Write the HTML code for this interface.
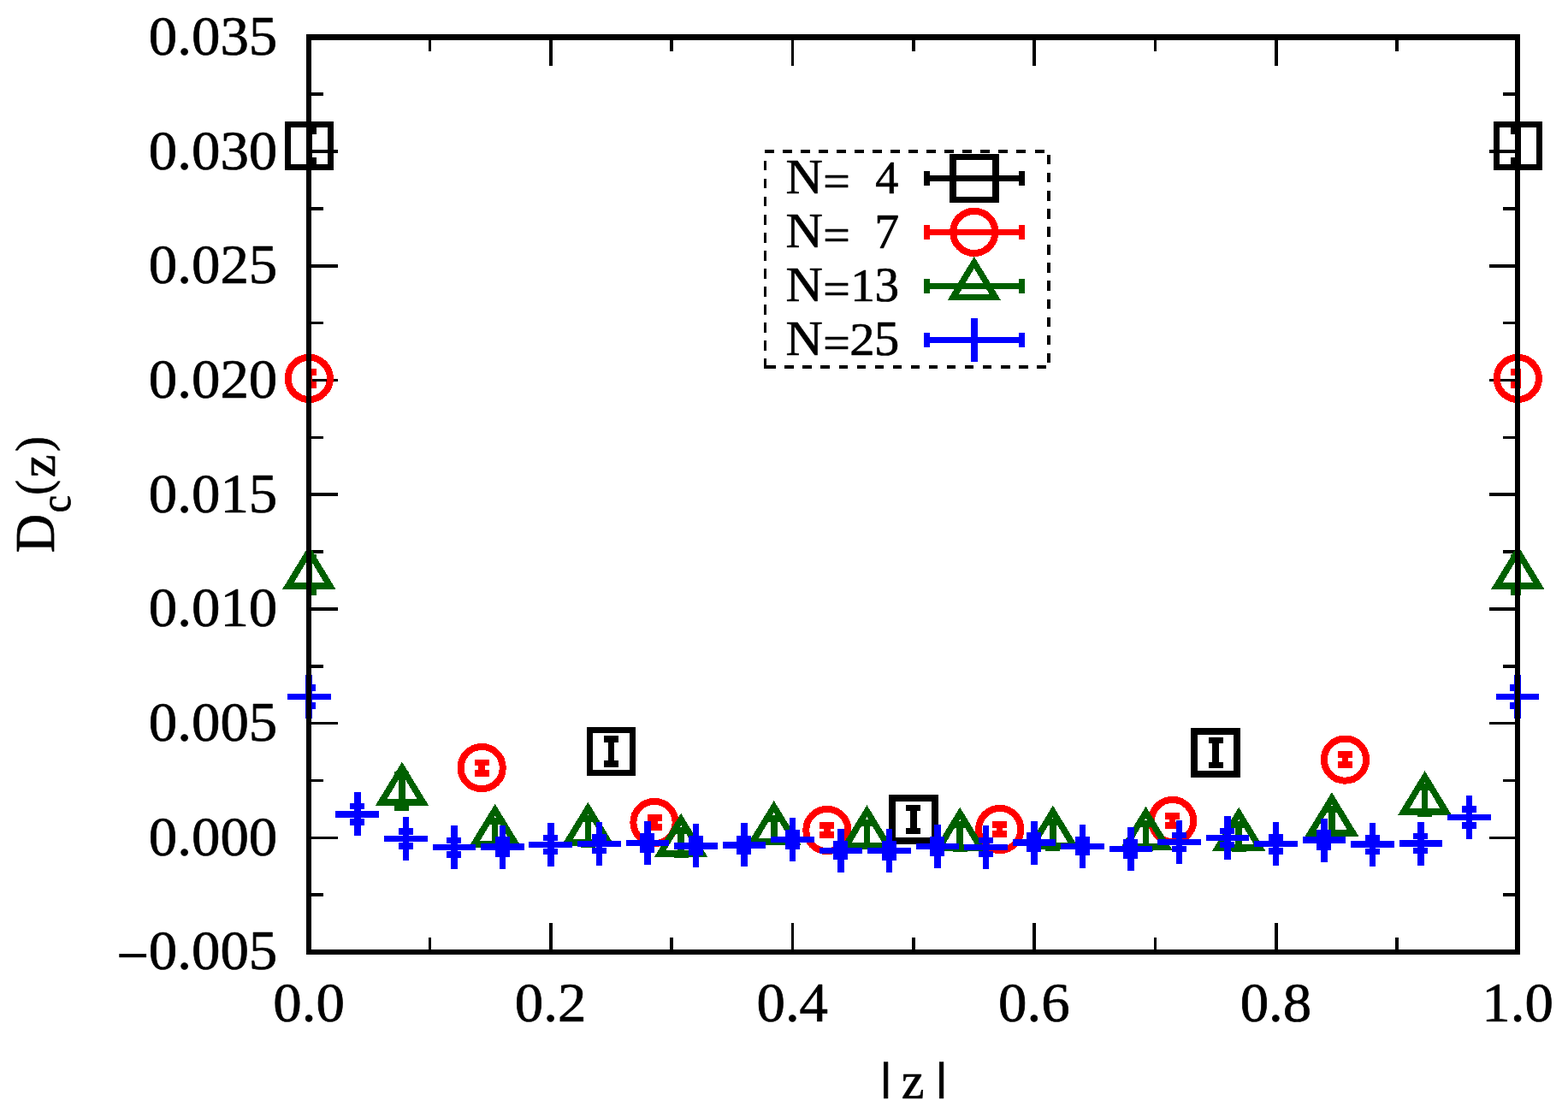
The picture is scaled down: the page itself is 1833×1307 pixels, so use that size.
<!DOCTYPE html>
<html lang="en"><head><meta charset="utf-8"><title>Dc(z) vs |z|</title>
<style>html,body{margin:0;padding:0;background:#fff}svg{display:block}text{font-family:"Liberation Serif",serif;fill:#000;stroke:#000;stroke-width:0.7px;stroke-linejoin:round}</style>
</head><body>
<svg width="1833" height="1307" viewBox="0 0 1833 1307">
<rect x="0" y="0" width="1833" height="1307" fill="#fff"/>
<defs><clipPath id="c"><rect x="361" y="43" width="1417" height="1071"/></clipPath></defs>
<g shape-rendering="crispEdges">
<g fill="#000">
<rect x="364" y="1111.2" width="31" height="3.6" fill="#000"/>
<rect x="1741" y="1111.2" width="30" height="3.6" fill="#000"/>
<rect x="364" y="1044.35" width="14" height="3.6" fill="#000"/>
<rect x="1757" y="1044.35" width="14" height="3.6" fill="#000"/>
<rect x="364" y="977.5" width="31" height="3.6" fill="#000"/>
<rect x="1741" y="977.5" width="30" height="3.6" fill="#000"/>
<rect x="364" y="910.65" width="14" height="3.6" fill="#000"/>
<rect x="1757" y="910.65" width="14" height="3.6" fill="#000"/>
<rect x="364" y="843.8" width="31" height="3.6" fill="#000"/>
<rect x="1741" y="843.8" width="30" height="3.6" fill="#000"/>
<rect x="364" y="776.95" width="14" height="3.6" fill="#000"/>
<rect x="1757" y="776.95" width="14" height="3.6" fill="#000"/>
<rect x="364" y="710.1" width="31" height="3.6" fill="#000"/>
<rect x="1741" y="710.1" width="30" height="3.6" fill="#000"/>
<rect x="364" y="643.25" width="14" height="3.6" fill="#000"/>
<rect x="1757" y="643.25" width="14" height="3.6" fill="#000"/>
<rect x="364" y="576.4" width="31" height="3.6" fill="#000"/>
<rect x="1741" y="576.4" width="30" height="3.6" fill="#000"/>
<rect x="364" y="509.55" width="14" height="3.6" fill="#000"/>
<rect x="1757" y="509.55" width="14" height="3.6" fill="#000"/>
<rect x="364" y="442.7" width="31" height="3.6" fill="#000"/>
<rect x="1741" y="442.7" width="30" height="3.6" fill="#000"/>
<rect x="364" y="375.85" width="14" height="3.6" fill="#000"/>
<rect x="1757" y="375.85" width="14" height="3.6" fill="#000"/>
<rect x="364" y="309" width="31" height="3.6" fill="#000"/>
<rect x="1741" y="309" width="30" height="3.6" fill="#000"/>
<rect x="364" y="242.15" width="14" height="3.6" fill="#000"/>
<rect x="1757" y="242.15" width="14" height="3.6" fill="#000"/>
<rect x="364" y="175.3" width="31" height="3.6" fill="#000"/>
<rect x="1741" y="175.3" width="30" height="3.6" fill="#000"/>
<rect x="364" y="108.45" width="14" height="3.6" fill="#000"/>
<rect x="1757" y="108.45" width="14" height="3.6" fill="#000"/>
<rect x="364" y="41.6" width="31" height="3.6" fill="#000"/>
<rect x="1741" y="41.6" width="30" height="3.6" fill="#000"/>
<rect x="359.5" y="47" width="3.6" height="30" fill="#000"/>
<rect x="359.5" y="1079" width="3.6" height="31" fill="#000"/>
<rect x="500.8" y="47" width="3.6" height="13" fill="#000"/>
<rect x="500.8" y="1096" width="3.6" height="14" fill="#000"/>
<rect x="642.1" y="47" width="3.6" height="30" fill="#000"/>
<rect x="642.1" y="1079" width="3.6" height="31" fill="#000"/>
<rect x="783.4" y="47" width="3.6" height="13" fill="#000"/>
<rect x="783.4" y="1096" width="3.6" height="14" fill="#000"/>
<rect x="924.7" y="47" width="3.6" height="30" fill="#000"/>
<rect x="924.7" y="1079" width="3.6" height="31" fill="#000"/>
<rect x="1066" y="47" width="3.6" height="13" fill="#000"/>
<rect x="1066" y="1096" width="3.6" height="14" fill="#000"/>
<rect x="1207.3" y="47" width="3.6" height="30" fill="#000"/>
<rect x="1207.3" y="1079" width="3.6" height="31" fill="#000"/>
<rect x="1348.6" y="47" width="3.6" height="13" fill="#000"/>
<rect x="1348.6" y="1096" width="3.6" height="14" fill="#000"/>
<rect x="1489.9" y="47" width="3.6" height="30" fill="#000"/>
<rect x="1489.9" y="1079" width="3.6" height="31" fill="#000"/>
<rect x="1631.2" y="47" width="3.6" height="13" fill="#000"/>
<rect x="1631.2" y="1096" width="3.6" height="14" fill="#000"/>
<rect x="1772.5" y="47" width="3.6" height="30" fill="#000"/>
<rect x="1772.5" y="1079" width="3.6" height="31" fill="#000"/>
</g>
<g clip-path="url(#c)">
<path fill="#000000" d="M352.8 149.25h17v7.5h-4.75v27.5h4.75v7.5h-17v-7.5h4.75v-27.5h-4.75z"/>
<path fill="#000000" d="M706.05 860.05h17v7.5h-4.75v21.5h4.75v7.5h-17v-7.5h4.75v-21.5h-4.75z"/>
<path fill="#000000" d="M1059.3 940.75h17v7.5h-4.75v19.5h4.75v7.5h-17v-7.5h4.75v-19.5h-4.75z"/>
<path fill="#000000" d="M1412.55 861.95h17v7.5h-4.75v21.1h4.75v7.5h-17v-7.5h4.75v-21.1h-4.75z"/>
<path fill="#000000" d="M1765.8 149.25h17v7.5h-4.75v27.5h4.75v7.5h-17v-7.5h4.75v-27.5h-4.75z"/>
</g>
<g>
<rect x="336.3" y="145.5" width="50" height="50" fill="none" stroke="#000000" stroke-width="7.5"/>
<rect x="689.55" y="853.3" width="50" height="50" fill="none" stroke="#000000" stroke-width="7.5"/>
<rect x="1042.8" y="933" width="50" height="50" fill="none" stroke="#000000" stroke-width="7.5"/>
<rect x="1396.05" y="855" width="50" height="50" fill="none" stroke="#000000" stroke-width="7.5"/>
<rect x="1749.3" y="145.5" width="50" height="50" fill="none" stroke="#000000" stroke-width="7.5"/>
</g>
<g clip-path="url(#c)">
<path fill="#ff0000" d="M352.8 431.05h17v7.5h-4.75v7.7h4.75v7.5h-17v-7.5h4.75v-7.7h-4.75z"/>
<path fill="#ff0000" d="M554.66 887.65h17v7.5h-4.75v4.9h4.75v7.5h-17v-7.5h4.75v-4.9h-4.75z"/>
<path fill="#ff0000" d="M756.51 952.25h17v7.5h-4.75v3.5h4.75v7.5h-17v-7.5h4.75v-3.5h-4.75z"/>
<path fill="#ff0000" d="M958.37 961.45h17v7.5h-4.75v3.1h4.75v7.5h-17v-7.5h4.75v-3.1h-4.75z"/>
<path fill="#ff0000" d="M1160.23 960.25h17v7.5h-4.75v3.5h4.75v7.5h-17v-7.5h4.75v-3.5h-4.75z"/>
<path fill="#ff0000" d="M1362.09 950.05h17v7.5h-4.75v3.9h4.75v7.5h-17v-7.5h4.75v-3.9h-4.75z"/>
<path fill="#ff0000" d="M1563.94 878.35h17v7.5h-4.75v4.5h4.75v7.5h-17v-7.5h4.75v-4.5h-4.75z"/>
<path fill="#ff0000" d="M1765.8 431.05h17v7.5h-4.75v7.7h4.75v7.5h-17v-7.5h4.75v-7.7h-4.75z"/>
</g>
<g>
<circle cx="361.3" cy="442.4" r="24.6" fill="none" stroke="#ff0000" stroke-width="8"/>
<circle cx="563.16" cy="897.6" r="24.6" fill="none" stroke="#ff0000" stroke-width="8"/>
<circle cx="765.01" cy="961.5" r="24.6" fill="none" stroke="#ff0000" stroke-width="8"/>
<circle cx="966.87" cy="970.5" r="24.6" fill="none" stroke="#ff0000" stroke-width="8"/>
<circle cx="1168.73" cy="969.5" r="24.6" fill="none" stroke="#ff0000" stroke-width="8"/>
<circle cx="1370.59" cy="959.5" r="24.6" fill="none" stroke="#ff0000" stroke-width="8"/>
<circle cx="1572.44" cy="888.1" r="24.6" fill="none" stroke="#ff0000" stroke-width="8"/>
<circle cx="1774.3" cy="442.4" r="24.6" fill="none" stroke="#ff0000" stroke-width="8"/>
</g>
<g clip-path="url(#c)">
<path fill="#006000" d="M352.8 647.75h17v7.5h-4.75v33.3h4.75v7.5h-17v-7.5h4.75v-33.3h-4.75z"/>
<path fill="#006000" d="M461.49 902.45h17v7.5h-4.75v30.1h4.75v7.5h-17v-7.5h4.75v-30.1h-4.75z"/>
<path fill="#006000" d="M570.18 956.25h17v7.5h-4.75v20.5h4.75v7.5h-17v-7.5h4.75v-20.5h-4.75z"/>
<path fill="#006000" d="M678.88 953.25h17v7.5h-4.75v22.5h4.75v7.5h-17v-7.5h4.75v-22.5h-4.75z"/>
<path fill="#006000" d="M787.57 967.25h17v7.5h-4.75v20.5h4.75v7.5h-17v-7.5h4.75v-20.5h-4.75z"/>
<path fill="#006000" d="M896.26 953.25h17v7.5h-4.75v19.1h4.75v7.5h-17v-7.5h4.75v-19.1h-4.75z"/>
<path fill="#006000" d="M1004.95 958.25h17v7.5h-4.75v19.5h4.75v7.5h-17v-7.5h4.75v-19.5h-4.75z"/>
<path fill="#006000" d="M1113.65 960.25h17v7.5h-4.75v20.5h4.75v7.5h-17v-7.5h4.75v-20.5h-4.75z"/>
<path fill="#006000" d="M1222.34 957.25h17v7.5h-4.75v22.5h4.75v7.5h-17v-7.5h4.75v-22.5h-4.75z"/>
<path fill="#006000" d="M1331.03 959.25h17v7.5h-4.75v20.5h4.75v7.5h-17v-7.5h4.75v-20.5h-4.75z"/>
<path fill="#006000" d="M1439.72 960.25h17v7.5h-4.75v20.5h4.75v7.5h-17v-7.5h4.75v-20.5h-4.75z"/>
<path fill="#006000" d="M1548.42 942.45h17v7.5h-4.75v21.1h4.75v7.5h-17v-7.5h4.75v-21.1h-4.75z"/>
<path fill="#006000" d="M1657.11 916.25h17v7.5h-4.75v23.5h4.75v7.5h-17v-7.5h4.75v-23.5h-4.75z"/>
<path fill="#006000" d="M1765.8 647.75h17v7.5h-4.75v33.3h4.75v7.5h-17v-7.5h4.75v-33.3h-4.75z"/>
</g>
<g>
<path fill="#006000" fill-rule="evenodd" d="M361.3 637.6L392.7 689.1L329.9 689.1ZM361.3 651.5L343.6 681.3L379 681.3Z"/>
<path fill="#006000" fill-rule="evenodd" d="M469.99 890.7L501.39 942.2L438.59 942.2ZM469.99 904.6L452.29 934.4L487.69 934.4Z"/>
<path fill="#006000" fill-rule="evenodd" d="M578.68 939.7L610.08 991.2L547.28 991.2ZM578.68 953.6L560.98 983.4L596.38 983.4Z"/>
<path fill="#006000" fill-rule="evenodd" d="M687.38 937.7L718.78 989.2L655.98 989.2ZM687.38 951.6L669.68 981.4L705.08 981.4Z"/>
<path fill="#006000" fill-rule="evenodd" d="M796.07 950.7L827.47 1002.2L764.67 1002.2ZM796.07 964.6L778.37 994.4L813.77 994.4Z"/>
<path fill="#006000" fill-rule="evenodd" d="M904.76 936L936.16 987.5L873.36 987.5ZM904.76 949.9L887.06 979.7L922.46 979.7Z"/>
<path fill="#006000" fill-rule="evenodd" d="M1013.45 941.2L1044.85 992.7L982.05 992.7ZM1013.45 955.1L995.75 984.9L1031.15 984.9Z"/>
<path fill="#006000" fill-rule="evenodd" d="M1122.15 943.7L1153.55 995.2L1090.75 995.2ZM1122.15 957.6L1104.45 987.4L1139.85 987.4Z"/>
<path fill="#006000" fill-rule="evenodd" d="M1230.84 941.7L1262.24 993.2L1199.44 993.2ZM1230.84 955.6L1213.14 985.4L1248.54 985.4Z"/>
<path fill="#006000" fill-rule="evenodd" d="M1339.53 942.7L1370.93 994.2L1308.13 994.2ZM1339.53 956.6L1321.83 986.4L1357.23 986.4Z"/>
<path fill="#006000" fill-rule="evenodd" d="M1448.22 943.7L1479.62 995.2L1416.82 995.2ZM1448.22 957.6L1430.52 987.4L1465.92 987.4Z"/>
<path fill="#006000" fill-rule="evenodd" d="M1556.92 926.2L1588.32 977.7L1525.52 977.7ZM1556.92 940.1L1539.22 969.9L1574.62 969.9Z"/>
<path fill="#006000" fill-rule="evenodd" d="M1665.61 901.2L1697.01 952.7L1634.21 952.7ZM1665.61 915.1L1647.91 944.9L1683.31 944.9Z"/>
<path fill="#006000" fill-rule="evenodd" d="M1774.3 637.6L1805.7 689.1L1742.9 689.1ZM1774.3 651.5L1756.6 681.3L1792 681.3Z"/>
</g>
<g clip-path="url(#c)">
<path fill="#0000ff" d="M352 800h17v8h-17zM352 821h17v8h-17zM357 800h8v29h-8z"/>
<path fill="#0000ff" d="M409 939h17v7h-17zM409 957h17v8h-17zM414 939h8v26h-8z"/>
<path fill="#0000ff" d="M466 968h17v8h-17zM466 985h17v8h-17zM471 968h7v25h-7z"/>
<path fill="#0000ff" d="M522 979h17v7h-17zM522 995h17v8h-17zM527 979h8v24h-8z"/>
<path fill="#0000ff" d="M579 978h17v8h-17zM579 994h17v8h-17zM584 978h7v24h-7z"/>
<path fill="#0000ff" d="M635 976h17v7h-17zM635 992h17v7h-17zM640 976h8v23h-8z"/>
<path fill="#0000ff" d="M692 975h17v8h-17zM692 991h17v7h-17zM697 975h7v23h-7z"/>
<path fill="#0000ff" d="M748 974h17v8h-17zM748 989h17v8h-17zM753 974h8v23h-8z"/>
<path fill="#0000ff" d="M805 977h17v8h-17zM805 993h17v7h-17zM810 977h7v23h-7z"/>
<path fill="#0000ff" d="M861 977h17v7h-17zM861 992h17v7h-17zM866 977h8v22h-8z"/>
<path fill="#0000ff" d="M918 970h17v8h-17zM918 985h17v8h-17zM923 970h7v23h-7z"/>
<path fill="#0000ff" d="M974 983h17v8h-17zM974 998h17v7h-17zM979 983h8v22h-8z"/>
<path fill="#0000ff" d="M1031 983h17v8h-17zM1031 998h17v8h-17zM1036 983h7v23h-7z"/>
<path fill="#0000ff" d="M1087 978h17v8h-17zM1087 993h17v8h-17zM1092 978h8v23h-8z"/>
<path fill="#0000ff" d="M1144 979h17v7h-17zM1144 995h17v7h-17zM1149 979h7v23h-7z"/>
<path fill="#0000ff" d="M1200 973h17v8h-17zM1200 989h17v7h-17zM1205 973h8v23h-8z"/>
<path fill="#0000ff" d="M1257 978h17v8h-17zM1257 993h17v7h-17zM1262 978h7v22h-7z"/>
<path fill="#0000ff" d="M1313 981h17v8h-17zM1313 996h17v8h-17zM1318 981h8v23h-8z"/>
<path fill="#0000ff" d="M1370 973h17v7h-17zM1370 989h17v7h-17zM1375 973h7v23h-7z"/>
<path fill="#0000ff" d="M1426 968h17v7h-17zM1426 984h17v7h-17zM1431 968h8v23h-8z"/>
<path fill="#0000ff" d="M1483 975h17v8h-17zM1483 991h17v8h-17zM1488 975h7v24h-7z"/>
<path fill="#0000ff" d="M1539 970h17v8h-17zM1539 986h17v8h-17zM1544 970h8v24h-8z"/>
<path fill="#0000ff" d="M1596 976h17v7h-17zM1596 992h17v7h-17zM1601 976h7v23h-7z"/>
<path fill="#0000ff" d="M1652 974h17v7h-17zM1652 991h17v7h-17zM1657 974h8v24h-8z"/>
<path fill="#0000ff" d="M1709 942h17v8h-17zM1709 961h17v8h-17zM1714 942h7v27h-7z"/>
<path fill="#0000ff" d="M1765 800h17v8h-17zM1765 821h17v8h-17zM1770 800h8v29h-8z"/>
</g>
<g>
<path fill="#0000ff" d="M357 789h8v51h-8zM336 811h51v7h-51z"/>
<path fill="#0000ff" d="M414 926h8v51h-8zM392 948h51v8h-51z"/>
<path fill="#0000ff" d="M471 955h7v51h-7zM449 977h51v7h-51z"/>
<path fill="#0000ff" d="M527 965h8v51h-8zM506 987h50v7h-50z"/>
<path fill="#0000ff" d="M584 965h7v51h-7zM562 986h51v8h-51z"/>
<path fill="#0000ff" d="M640 962h8v51h-8zM618 984h51v7h-51z"/>
<path fill="#0000ff" d="M697 961h7v51h-7zM675 983h51v7h-51z"/>
<path fill="#0000ff" d="M753 960h8v51h-8zM732 982h50v7h-50z"/>
<path fill="#0000ff" d="M810 963h7v51h-7zM788 985h51v8h-51z"/>
<path fill="#0000ff" d="M866 962h8v51h-8zM845 984h50v8h-50z"/>
<path fill="#0000ff" d="M923 956h7v51h-7zM901 978h51v7h-51z"/>
<path fill="#0000ff" d="M979 969h8v51h-8zM958 991h50v7h-50z"/>
<path fill="#0000ff" d="M1036 969h7v51h-7zM1014 991h51v7h-51z"/>
<path fill="#0000ff" d="M1092 964h8v51h-8zM1071 986h50v7h-50z"/>
<path fill="#0000ff" d="M1149 965h7v51h-7zM1127 987h51v7h-51z"/>
<path fill="#0000ff" d="M1205 960h8v51h-8zM1184 981h50v8h-50z"/>
<path fill="#0000ff" d="M1262 964h7v51h-7zM1240 986h51v7h-51z"/>
<path fill="#0000ff" d="M1318 967h8v51h-8zM1297 989h50v7h-50z"/>
<path fill="#0000ff" d="M1375 959h7v51h-7zM1353 981h51v7h-51z"/>
<path fill="#0000ff" d="M1431 954h8v51h-8zM1410 976h50v7h-50z"/>
<path fill="#0000ff" d="M1488 961h7v51h-7zM1466 983h51v7h-51z"/>
<path fill="#0000ff" d="M1544 957h8v51h-8zM1523 978h50v8h-50z"/>
<path fill="#0000ff" d="M1601 962h7v51h-7zM1579 983h51v8h-51z"/>
<path fill="#0000ff" d="M1657 961h8v51h-8zM1636 982h50v8h-50z"/>
<path fill="#0000ff" d="M1714 930h7v51h-7zM1692 952h51v7h-51z"/>
<path fill="#0000ff" d="M1770 789h8v51h-8zM1749 811h50v7h-50z"/>
</g>
<path fill="#000" fill-rule="evenodd" d="M358 40H1777V1116H358ZM364 47H1771V1110H364Z"/>
<g fill="#000">
<rect x="893.5" y="175" width="11" height="4" fill="#000"/>
<rect x="914.57" y="175" width="11" height="4" fill="#000"/>
<rect x="935.64" y="175" width="11" height="4" fill="#000"/>
<rect x="956.71" y="175" width="11" height="4" fill="#000"/>
<rect x="977.78" y="175" width="11" height="4" fill="#000"/>
<rect x="998.85" y="175" width="11" height="4" fill="#000"/>
<rect x="1019.92" y="175" width="11" height="4" fill="#000"/>
<rect x="1040.99" y="175" width="11" height="4" fill="#000"/>
<rect x="1062.06" y="175" width="11" height="4" fill="#000"/>
<rect x="1083.13" y="175" width="11" height="4" fill="#000"/>
<rect x="1104.2" y="175" width="11" height="4" fill="#000"/>
<rect x="1125.27" y="175" width="11" height="4" fill="#000"/>
<rect x="1146.34" y="175" width="11" height="4" fill="#000"/>
<rect x="1167.41" y="175" width="11" height="4" fill="#000"/>
<rect x="1188.48" y="175" width="11" height="4" fill="#000"/>
<rect x="1209.55" y="175" width="11" height="4" fill="#000"/>
<rect x="1224" y="181" width="4" height="11.4" fill="#000"/>
<rect x="1224" y="202.07" width="4" height="11.4" fill="#000"/>
<rect x="1224" y="223.14" width="4" height="11.4" fill="#000"/>
<rect x="1224" y="244.21" width="4" height="11.4" fill="#000"/>
<rect x="1224" y="265.28" width="4" height="11.4" fill="#000"/>
<rect x="1224" y="286.35" width="4" height="11.4" fill="#000"/>
<rect x="1224" y="307.42" width="4" height="11.4" fill="#000"/>
<rect x="1224" y="328.49" width="4" height="11.4" fill="#000"/>
<rect x="1224" y="349.56" width="4" height="11.4" fill="#000"/>
<rect x="1224" y="370.63" width="4" height="11.4" fill="#000"/>
<rect x="1224" y="391.7" width="4" height="11.4" fill="#000"/>
<rect x="1224" y="412.77" width="4" height="11.4" fill="#000"/>
<rect x="893" y="187.7" width="3" height="11.6" fill="#000"/>
<rect x="893" y="208.77" width="3" height="11.6" fill="#000"/>
<rect x="893" y="229.84" width="3" height="11.6" fill="#000"/>
<rect x="893" y="250.91" width="3" height="11.6" fill="#000"/>
<rect x="893" y="271.98" width="3" height="11.6" fill="#000"/>
<rect x="893" y="293.05" width="3" height="11.6" fill="#000"/>
<rect x="893" y="314.12" width="3" height="11.6" fill="#000"/>
<rect x="893" y="335.19" width="3" height="11.6" fill="#000"/>
<rect x="893" y="356.26" width="3" height="11.6" fill="#000"/>
<rect x="893" y="377.33" width="3" height="11.6" fill="#000"/>
<rect x="893" y="398.4" width="3" height="11.6" fill="#000"/>
<rect x="893" y="419.47" width="3" height="11.03" fill="#000"/>
<rect x="893" y="426.7" width="13.9" height="3.8" fill="#000"/>
<rect x="917.3" y="426.7" width="10.4" height="3.8" fill="#000"/>
<rect x="938.37" y="426.7" width="10.4" height="3.8" fill="#000"/>
<rect x="959.44" y="426.7" width="10.4" height="3.8" fill="#000"/>
<rect x="980.51" y="426.7" width="10.4" height="3.8" fill="#000"/>
<rect x="1001.58" y="426.7" width="10.4" height="3.8" fill="#000"/>
<rect x="1022.65" y="426.7" width="10.4" height="3.8" fill="#000"/>
<rect x="1043.72" y="426.7" width="10.4" height="3.8" fill="#000"/>
<rect x="1064.79" y="426.7" width="10.4" height="3.8" fill="#000"/>
<rect x="1085.86" y="426.7" width="10.4" height="3.8" fill="#000"/>
<rect x="1106.93" y="426.7" width="10.4" height="3.8" fill="#000"/>
<rect x="1128" y="426.7" width="10.4" height="3.8" fill="#000"/>
<rect x="1149.07" y="426.7" width="10.4" height="3.8" fill="#000"/>
<rect x="1170.14" y="426.7" width="10.4" height="3.8" fill="#000"/>
<rect x="1191.21" y="426.7" width="10.4" height="3.8" fill="#000"/>
<rect x="1212.28" y="426.7" width="10.4" height="3.8" fill="#000"/>
</g>
<rect x="1080" y="205" width="118" height="7" fill="#000000"/>
<rect x="1080" y="200" width="7" height="17" fill="#000000"/>
<rect x="1191" y="200" width="7" height="17" fill="#000000"/>
<rect x="1113.8" y="183.5" width="50" height="50" fill="none" stroke="#000000" stroke-width="7.5"/>
<rect x="1080" y="267.9" width="118" height="7" fill="#ff0000"/>
<rect x="1080" y="262.9" width="7" height="17" fill="#ff0000"/>
<rect x="1191" y="262.9" width="7" height="17" fill="#ff0000"/>
<circle cx="1138.8" cy="271.4" r="24.6" fill="none" stroke="#ff0000" stroke-width="8"/>
<rect x="1080" y="330.7" width="118" height="7" fill="#006000"/>
<rect x="1080" y="325.7" width="7" height="17" fill="#006000"/>
<rect x="1191" y="325.7" width="7" height="17" fill="#006000"/>
<path fill="#006000" fill-rule="evenodd" d="M1138.8 299.9L1170.2 351.4L1107.4 351.4ZM1138.8 313.8L1121.1 343.6L1156.5 343.6Z"/>
<rect x="1080" y="394.1" width="118" height="7" fill="#0000ff"/>
<rect x="1080" y="389.1" width="7" height="17" fill="#0000ff"/>
<rect x="1191" y="389.1" width="7" height="17" fill="#0000ff"/>
<path fill="#0000ff" d="M1135.05 372.1h7.5v21.75h21.75v7.5h-21.75v21.75h-7.5v-21.75h-21.75v-7.5h21.75z"/>
</g>
<g>
<text transform="matrix(0.6683 0 0 0.7228 136.57 1140.7)" font-size="100" vector-effect="non-scaling-stroke">−</text>
<text transform="translate(324.3 1133.4) scale(1.033 1)" font-size="64.8" text-anchor="end">0.005</text>
<text transform="translate(324.3 999.7) scale(1.033 1)" font-size="64.8" text-anchor="end">0.000</text>
<text transform="translate(324.3 866) scale(1.033 1)" font-size="64.8" text-anchor="end">0.005</text>
<text transform="translate(324.3 732.3) scale(1.033 1)" font-size="64.8" text-anchor="end">0.010</text>
<text transform="translate(324.3 598.6) scale(1.033 1)" font-size="64.8" text-anchor="end">0.015</text>
<text transform="translate(324.3 464.9) scale(1.033 1)" font-size="64.8" text-anchor="end">0.020</text>
<text transform="translate(324.3 331.2) scale(1.033 1)" font-size="64.8" text-anchor="end">0.025</text>
<text transform="translate(324.3 197.5) scale(1.033 1)" font-size="64.8" text-anchor="end">0.030</text>
<text transform="translate(324.3 63.8) scale(1.033 1)" font-size="64.8" text-anchor="end">0.035</text>
<text transform="translate(361.05 1194.2) scale(1.033 1)" font-size="64.8" text-anchor="middle">0.0</text>
<text transform="translate(643.65 1194.2) scale(1.033 1)" font-size="64.8" text-anchor="middle">0.2</text>
<text transform="translate(926.25 1194.2) scale(1.033 1)" font-size="64.8" text-anchor="middle">0.4</text>
<text transform="translate(1208.85 1194.2) scale(1.033 1)" font-size="64.8" text-anchor="middle">0.6</text>
<text transform="translate(1491.45 1194.2) scale(1.033 1)" font-size="64.8" text-anchor="middle">0.8</text>
<text transform="translate(1774.05 1194.2) scale(1.033 1)" font-size="64.8" text-anchor="middle">1.0</text>
<text transform="matrix(0.8835 0 0 0.4738 1026.66 1273.77)" font-size="100" vector-effect="non-scaling-stroke">|</text>
<text transform="matrix(0.6013 0 0 0.6166 1053.69 1284.1)" font-size="100" vector-effect="non-scaling-stroke">z</text>
<text transform="matrix(0.8835 0 0 0.4738 1091.66 1273.77)" font-size="100" vector-effect="non-scaling-stroke">|</text>
<g transform="rotate(-90)">
<text transform="matrix(0.6306 0 0 0.6593 -646.32 63.47)" font-size="100" vector-effect="non-scaling-stroke">D</text>
<text transform="matrix(0.4560 0 0 0.5032 -599.24 82.21)" font-size="100" vector-effect="non-scaling-stroke">c</text>
<text transform="matrix(0.5334 0 0 0.5647 -578.64 58.38)" font-size="100" vector-effect="non-scaling-stroke">(</text>
<text transform="matrix(0.5962 0 0 0.5926 -558 63.6)" font-size="100" vector-effect="non-scaling-stroke">z</text>
<text transform="matrix(0.5373 0 0 0.5647 -528.03 58.38)" font-size="100" vector-effect="non-scaling-stroke">)</text>
</g>
<text transform="matrix(0.5996 0 0 0.5697 918.57 226.1)" font-size="100" vector-effect="non-scaling-stroke">N</text>
<text transform="matrix(0.5587 0 0 0.5600 962.32 231.19)" font-size="100" vector-effect="non-scaling-stroke">=</text>
<text transform="matrix(0.5400 0 0 0.5469 1023.35 225.8)" font-size="100" vector-effect="non-scaling-stroke">4</text>
<text transform="matrix(0.5996 0 0 0.5697 918.57 288.9)" font-size="100" vector-effect="non-scaling-stroke">N</text>
<text transform="matrix(0.5587 0 0 0.5600 962.32 293.99)" font-size="100" vector-effect="non-scaling-stroke">=</text>
<text transform="matrix(0.5774 0 0 0.5681 1022.29 290.1)" font-size="100" vector-effect="non-scaling-stroke">7</text>
<text transform="matrix(0.5996 0 0 0.5697 918.57 351.7)" font-size="100" vector-effect="non-scaling-stroke">N</text>
<text transform="matrix(0.5587 0 0 0.5600 962.32 356.79)" font-size="100" vector-effect="non-scaling-stroke">=</text>
<text transform="matrix(0.5738 0 0 0.5574 994.16 351.7)" font-size="100" vector-effect="non-scaling-stroke">1</text>
<text transform="matrix(0.5713 0 0 0.5656 1022.57 352.35)" font-size="100" vector-effect="non-scaling-stroke">3</text>
<text transform="matrix(0.5996 0 0 0.5697 918.57 414.5)" font-size="100" vector-effect="non-scaling-stroke">N</text>
<text transform="matrix(0.5587 0 0 0.5600 962.32 419.59)" font-size="100" vector-effect="non-scaling-stroke">=</text>
<text transform="matrix(0.5862 0 0 0.5558 993.32 414.5)" font-size="100" vector-effect="non-scaling-stroke">2</text>
<text transform="matrix(0.5859 0 0 0.5628 1021.9 415.15)" font-size="100" vector-effect="non-scaling-stroke">5</text>
</g>
</svg>
</body></html>
